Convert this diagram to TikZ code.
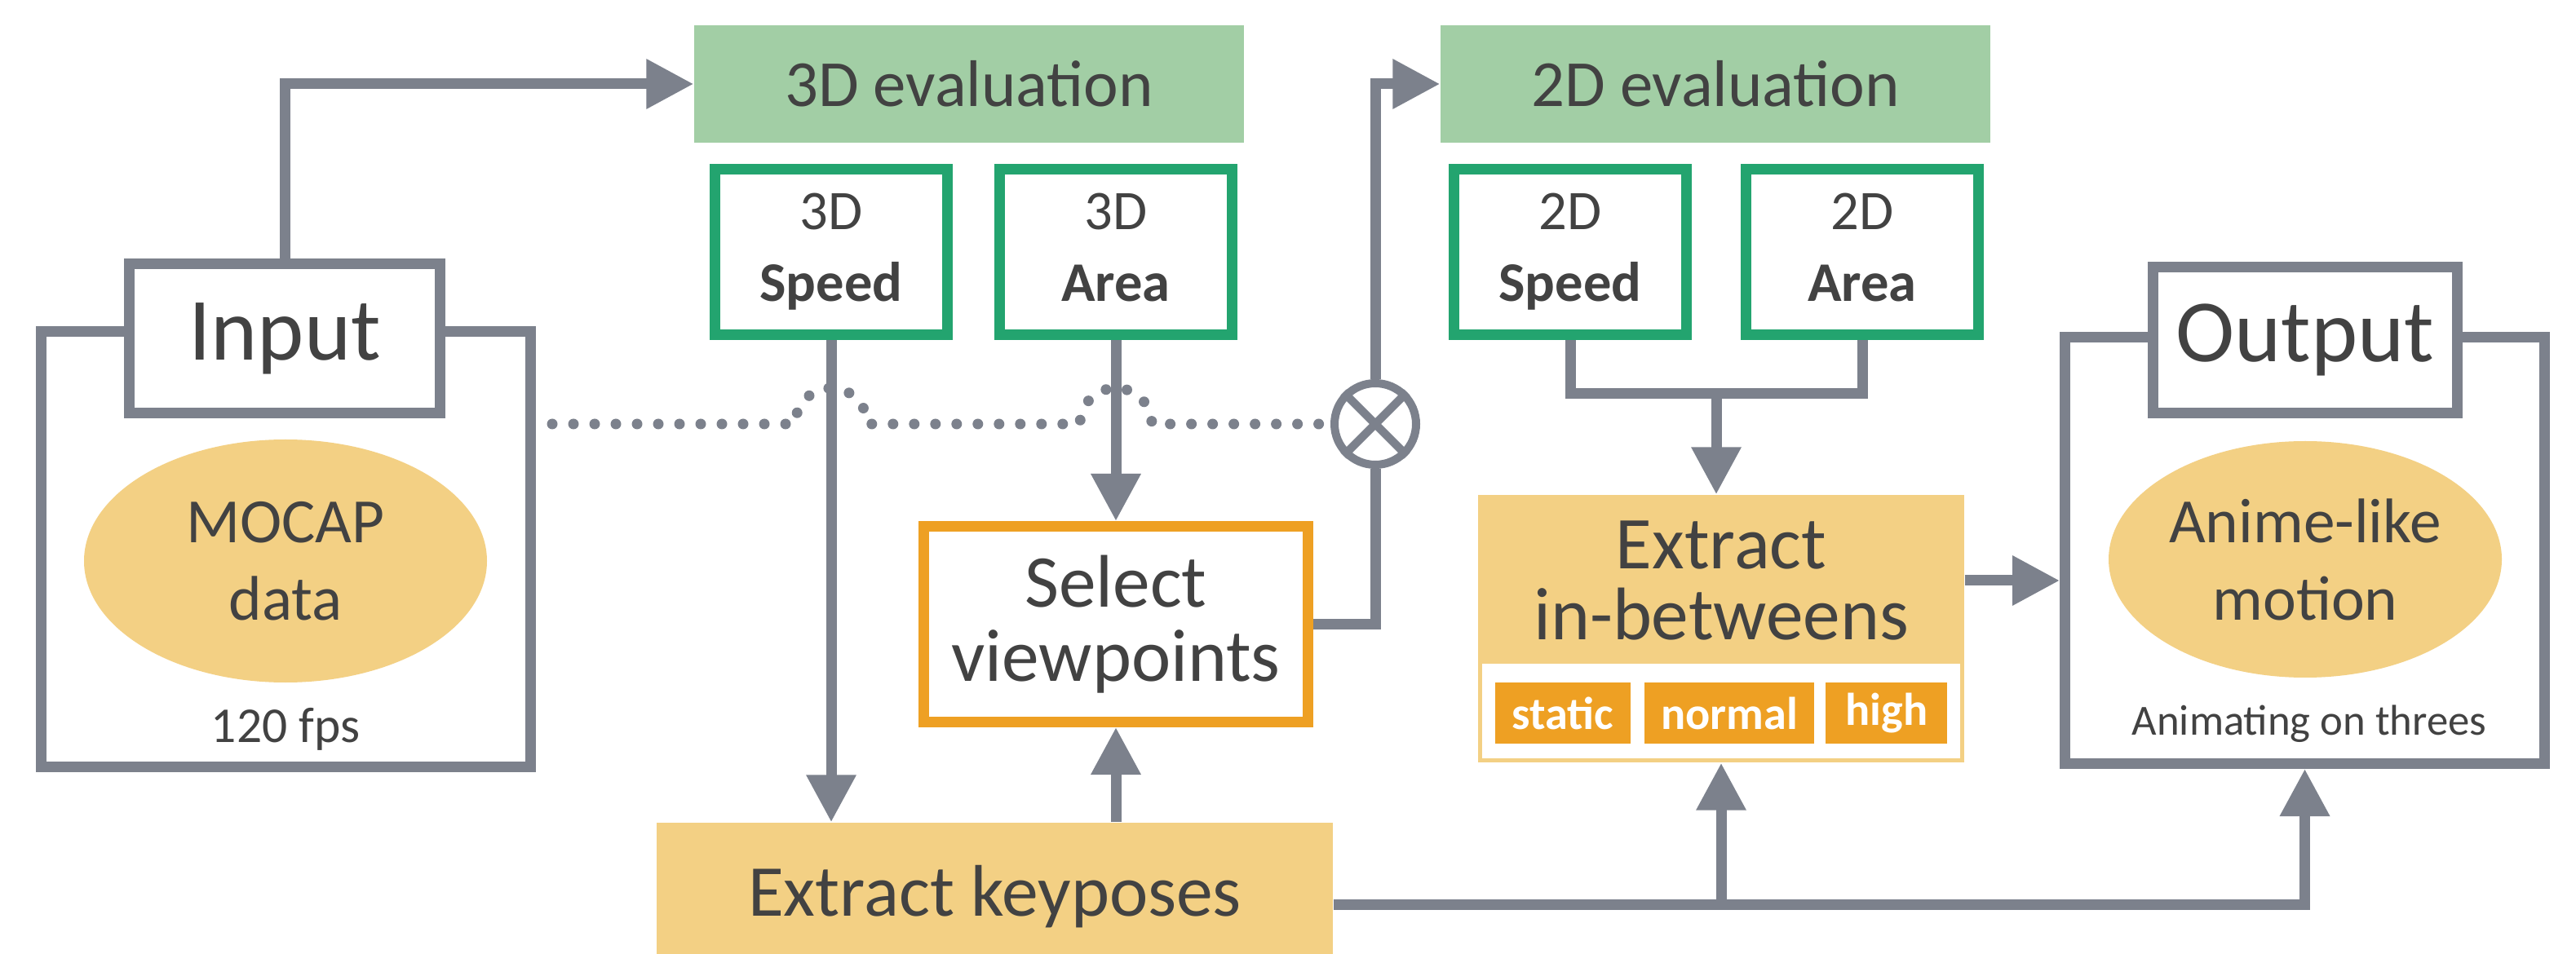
\documentclass[tikz,border=0pt]{standalone}
\usepackage{fontspec}
\setmainfont{Carlito}
\usetikzlibrary{calc,positioning,arrows.meta,shapes.geometric}
\definecolor{figGray}{HTML}{7C818C}
\definecolor{figText}{HTML}{424242}
\definecolor{evalGreen}{HTML}{A2CEA5}
\definecolor{metricGreen}{HTML}{23A46F}
\definecolor{dataYellow}{HTML}{F3D084}
\definecolor{tagOrange}{HTML}{EEA023}

\begin{document}
\begin{tikzpicture}[
  every node/.style={text=figText, inner sep=0pt},
  evalbar/.style={rectangle, fill=evalGreen, minimum width=6.74cm, minimum height=1.44cm,
    font=\fontsize{23}{27}\selectfont},
  metric/.style={rectangle, draw=metricGreen, fill=white, line width=1.3mm,
    minimum width=2.85cm, minimum height=2.03cm, align=center,
    font=\fontsize{19.5}{25}\selectfont},
  frame/.style={rectangle, draw=figGray, fill=white, line width=1.3mm},
  title/.style={frame, font=\fontsize{31}{37}\selectfont},
  blob/.style={ellipse, fill=dataYellow, align=center, font=\fontsize{22}{27}\selectfont},
  stage/.style={rectangle, fill=dataYellow, align=center, font=\fontsize{25.5}{25}\selectfont},
  pick/.style={rectangle, draw=tagOrange, fill=white, line width=1.3mm, align=center,
    font=\fontsize{26}{26}\selectfont},
  tag/.style={rectangle, fill=tagOrange, text=white, minimum height=0.75cm,
    font=\bfseries\fontsize{16}{18}\selectfont},
  note/.style={font=\fontsize{17.5}{20}\selectfont},
  link/.style={figGray, line width=1.3mm},
  arr/.style={link, -{Triangle[length=5.8mm,width=5.8mm]}},
  dots/.style={figGray, line width=1.3mm, line cap=round, dash pattern=on 0pt off 2.6mm},
]
\useasboundingbox (0,0) rectangle (31.58,-11.70);

% === Evaluation headers ===
\node[evalbar] (eval3d) at (11.88,-1.03) {3D evaluation};
\node[evalbar] (eval2d) at (21.03,-1.03) {2D evaluation};

% === Metric boxes ===
\node[metric] (speed3d) at (10.19,-3.09) {3D\\\textbf{Speed}};
\node[metric] (area3d) at (13.68,-3.09) {3D\\\textbf{Area}\vphantom{p}};
\node[metric] (speed2d) at (19.25,-3.09) {2D\\\textbf{Speed}};
\node[metric] (area2d) at (22.83,-3.09) {2D\\\textbf{Area}\vphantom{p}};

% === Input ===
\node[frame, minimum width=6.00cm, minimum height=5.34cm] (inframe) at (3.505,-6.735) {};
\node[blob, minimum width=4.94cm, minimum height=2.98cm] (mocap) at (3.50,-6.88) {MOCAP\\data};
\node[note] (fps) at (3.50,-8.94) {120 fps};
\node[title, minimum width=3.81cm, minimum height=1.83cm] (intitle) at (3.49,-4.15) {Input};

% === Output ===
\node[frame, minimum width=5.88cm, minimum height=5.23cm] (outframe) at (28.255,-6.75) {};
\node[blob, minimum width=4.82cm, minimum height=2.90cm] (anime) at (28.26,-6.86) {Anime-like\\motion};
\node[note, font=\fontsize{15}{18}\selectfont] (threes) at (28.31,-8.88) {Animating on threes};
\node[title, minimum width=3.73cm, minimum height=1.79cm] (outtitle) at (28.26,-4.17) {Output};

% === Processing steps ===
\node[pick, minimum width=4.71cm, minimum height=2.40cm] (select) at (13.68,-7.655) {Select\\viewpoints};
\node[stage, minimum width=8.29cm, minimum height=1.81cm] (keyposes) at (12.195,-10.995) {Extract keyposes};

\node[stage, minimum width=5.96cm, minimum height=3.28cm] (inbetweens) at (21.10,-7.71) {};
\node[align=center, font=\fontsize{26}{24.75}\selectfont] (inblabel) at (21.10,-7.12) {Extract\\in-betweens};
\node[fill=white, minimum width=5.86cm, minimum height=1.16cm] (tagstrip) at (21.10,-8.72) {};
\node[tag, minimum width=2.08cm] (normal) at (21.20,-8.745) {normal};
\node[tag, minimum width=1.66cm, left=1.6mm of normal] (static) {static};
\node[tag, minimum width=1.49cm, right=1.3mm of normal] (high) {high};

% combination of both viewpoints
\node[circle, draw=figGray, line width=1mm, minimum size=1cm] (cross) at (16.86,-5.20) {};
\draw[figGray, line width=1mm] (cross.north west) -- (cross.south east)
  (cross.north east) -- (cross.south west);

% dotted line, hopping over the metric arrows
\coordinate (dotstart) at ($(inframe.east |- cross)+(0.2,0)$);
\draw[dots] (dotstart) -- ($(speed3d.south |- cross)+(-0.44,0)$)
  arc[start angle=180, end angle=0, radius=0.44]
  -- ($(area3d.south |- cross)+(-0.44,0)$)
  arc[start angle=180, end angle=0, radius=0.44] -- (cross.west);

% === Connectors ===
\draw[arr] (intitle.north) |- (eval3d.west);
\draw[arr] (speed3d.south) -- (speed3d.south |- keyposes.north);
\draw[arr] (area3d.south) -- (select.north);
\draw[arr] (select.south |- keyposes.north) -- (select.south);
\draw[link] (select.east) -| (cross.south);
\draw[arr] (cross.north) |- (eval2d.west);

\coordinate (merge2d) at ($(speed2d.south)!0.5!(area2d.south)+(0,-0.66)$);
\draw[link] (speed2d.south) |- (merge2d) -| (area2d.south);
\draw[arr] (merge2d) -- (merge2d |- inbetweens.north);

\draw[arr] (inblabel -| inbetweens.east) -- (inblabel -| outframe.west);
\draw[arr] ($(keyposes.east)+(0,-0.1)$) -| (outframe.south);
\draw[arr] ($(inbetweens.south |- keyposes.east)+(0,-0.1)$) -- (inbetweens.south);

\end{tikzpicture}
\end{document}
